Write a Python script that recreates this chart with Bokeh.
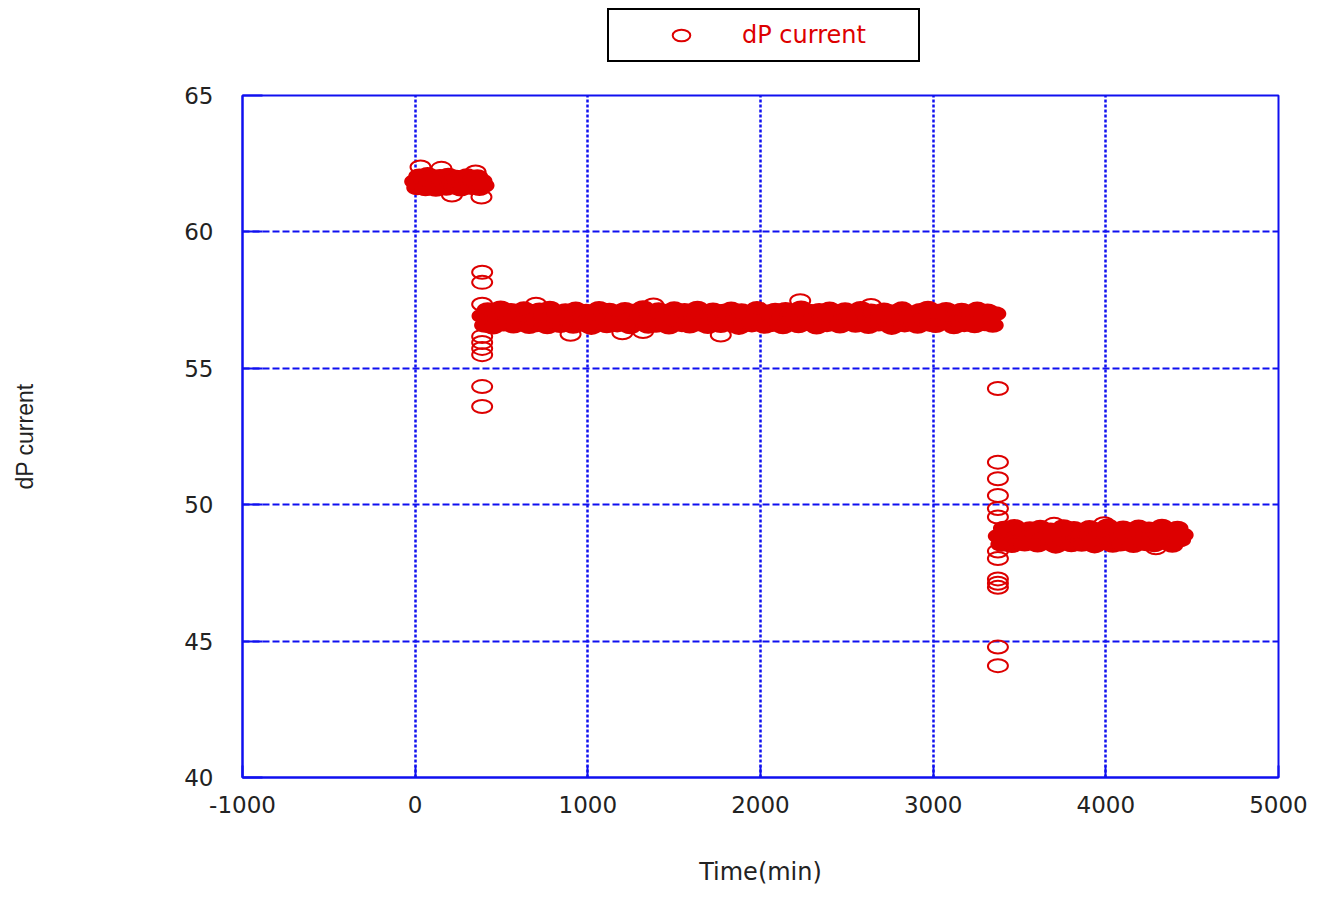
from bokeh.plotting import figure
from bokeh.layouts import column
from bokeh.models import (ColumnDataSource, Range1d, FixedTicker, Legend, LegendItem,
                          PrintfTickFormatter)
from bokeh.embed import file_html
from bokeh.resources import INLINE

# ---------------- data ----------------
# Regular logging interval of each run segment (min)
band1_t = list(range(0, 397, 12))
band1_v = [61.85, 61.62, 62.05, 61.74, 61.95, 61.58, 62.10, 61.80, 61.67, 61.99,
           61.56, 61.90, 62.03, 61.71, 61.88, 61.60, 62.08, 61.77, 61.93, 61.65,
           62.00, 61.83, 61.57, 61.97, 61.69, 62.06, 61.79, 61.63, 61.92, 61.75,
           62.02, 61.59, 61.87, 61.70]

band2_t = list(range(390, 3361, 15))
band2_v = [56.92, 56.58, 57.15, 56.74, 56.51, 57.05, 56.83, 57.21, 56.62, 56.97,
           56.70, 57.12, 56.55, 56.88, 57.02, 56.64, 57.18, 56.79, 56.53, 57.08,
           56.86, 56.60, 57.14, 56.72, 56.95, 56.52, 57.20, 56.81, 56.66, 57.04,
           56.57, 56.90, 57.11, 56.69, 56.99, 56.54, 57.17, 56.76, 56.87, 56.61,
           57.09, 56.73, 56.50, 57.01, 56.84, 57.19, 56.63, 56.94, 56.56, 57.13,
           56.78, 56.91, 56.59, 57.06, 56.68, 57.16, 56.82, 56.52, 56.98, 57.10,
           56.65, 56.89, 57.22, 56.71, 56.54, 57.03, 56.80, 56.58, 57.15, 56.93,
           56.67, 57.07, 56.51, 56.85, 57.18, 56.74, 56.96, 56.60, 57.12, 56.77,
           56.55, 57.00, 56.88, 57.20, 56.62, 56.79, 57.05, 56.53, 56.97, 57.14,
           56.70, 56.86, 56.57, 57.09, 56.75, 56.94, 57.17, 56.64, 56.83, 56.50,
           57.11, 56.72, 56.92, 57.02, 56.59, 56.81, 57.19, 56.66, 56.99, 56.54,
           57.06, 56.87, 56.61, 57.13, 56.76, 56.90, 56.52, 57.16, 56.69, 56.95,
           56.80, 57.04, 56.56, 57.21, 56.73, 56.91, 56.63, 57.08, 56.84, 56.51,
           57.12, 56.78, 56.98, 56.60, 57.17, 56.68, 56.89, 57.01, 56.55, 56.93,
           57.15, 56.65, 56.82, 57.06, 56.58, 56.96, 57.19, 56.71, 56.87, 56.53,
           57.10, 56.77, 57.00, 56.62, 56.92, 57.14, 56.67, 56.85, 56.50, 57.07,
           56.74, 56.94, 57.18, 56.59, 56.83, 57.03, 56.64, 56.97, 56.54, 57.12,
           56.79, 56.90, 57.20, 56.61, 56.86, 56.57, 57.09, 56.70, 56.99, 57.16,
           56.66, 56.88, 56.52, 57.05, 56.75, 57.13, 56.60, 56.93, 56.81, 57.02,
           56.56, 57.17, 56.72, 56.95, 56.63, 57.10, 56.84, 56.58, 57.00]

band3_t = list(range(3380, 4446, 15))
band3_v = [48.85, 48.55, 49.14, 48.70, 48.95, 48.50, 49.20, 48.78, 48.63, 49.03,
           48.56, 48.90, 49.12, 48.67, 48.98, 48.52, 49.17, 48.75, 48.87, 48.60,
           49.07, 48.72, 48.48, 49.01, 48.83, 49.19, 48.62, 48.93, 48.53, 49.13,
           48.77, 48.91, 48.55, 49.05, 48.68, 49.16, 48.81, 48.49, 48.97, 49.09,
           48.64, 48.88, 49.22, 48.69, 48.51, 49.02, 48.79, 48.56, 49.15, 48.92,
           48.66, 49.06, 48.50, 48.84, 49.18, 48.73, 48.95, 48.57, 49.11, 48.76,
           48.53, 48.99, 48.86, 49.21, 48.61, 48.80, 49.04, 48.51, 48.96, 49.14,
           48.71, 48.89]

# isolated readings (transitions / spikes)
extra_t = [31, 152, 350, 213, 384,
           388, 388, 388, 388, 388, 388, 388, 388, 388,
           900, 1200, 1770, 1320, 700, 1380, 2230, 2640,
           3375, 3375, 3375, 3375, 3375, 3375, 3375, 3375, 3375, 3375, 3375, 3375, 3375,
           4290, 3700, 3990]
extra_v = [62.38, 62.33, 62.20, 61.35, 61.28,
           58.52, 58.15, 57.35, 56.17, 55.95, 55.73, 55.50, 54.33, 53.60,
           56.25, 56.30, 56.22, 56.35, 57.35, 57.32, 57.48, 57.30,
           54.26, 51.56, 50.95, 50.34, 49.86, 49.55, 48.30, 48.03, 47.28, 47.12, 46.97, 44.78, 44.10,
           48.42, 49.28, 49.30]

x_ticks = [-1000, 0, 1000, 2000, 3000, 4000, 5000]
y_ticks = [40, 45, 50, 55, 60, 65]

series_label = "dP current"
x_title = "Time(min)"
y_title = "dP current"

# ---------------- styling ----------------
BLUE = "#1010f0"
RED = "#dd0000"
FONT = "DejaVu Sans"
TOP_H = 80
mk = dict(x="t", y="v", width=20, height=13, width_units="screen",
          height_units="screen", line_color=RED, line_width=2)

# ---------------- legend strip (above the plot) ----------------
lg = figure(width=1318, height=TOP_H, output_backend="svg", toolbar_location=None,
            x_range=Range1d(0, 1), y_range=Range1d(0, 1),
            x_axis_location=None, y_axis_location=None,
            min_border_left=0, min_border_right=0, min_border_top=0, min_border_bottom=0,
            outline_line_color=None, background_fill_color="white",
            border_fill_color="white")
lg.grid.visible = False
key = lg.ellipse(source=ColumnDataSource(dict(t=[-5], v=[-5])), fill_color=None, **mk)
legend = Legend(items=[LegendItem(label=series_label, renderers=[key])],
                location=(365, TOP_H - 62), margin=0, padding=11,
                glyph_width=122, glyph_height=22, label_standoff=0,
                label_width=165, label_height=27,
                label_text_font=FONT, label_text_font_size="24px",
                label_text_color=RED,
                border_line_color="black", border_line_width=2.5,
                border_line_alpha=1.0,
                background_fill_color="white", background_fill_alpha=1.0)
lg.add_layout(legend)

# ---------------- main plot ----------------
dense = ColumnDataSource(dict(t=band1_t + band2_t + band3_t,
                              v=band1_v + band2_v + band3_v))
sparse = ColumnDataSource(dict(t=extra_t, v=extra_v))

p = figure(width=1318, height=897 - TOP_H, output_backend="svg", toolbar_location=None,
           x_range=Range1d(-1000, 5000), y_range=Range1d(40, 65),
           min_border_left=242, min_border_right=40, min_border_top=95 - TOP_H,
           min_border_bottom=120, background_fill_color="white",
           border_fill_color="white")

# densely overlapping logged readings merge into a solid band
p.ellipse(source=dense, fill_color=RED, **mk)
p.ellipse(source=sparse, fill_color=None, **mk)

p.outline_line_color = BLUE
p.outline_line_width = 2

for ax, ticks, tin in ((p.xaxis[0], x_ticks, 12), (p.yaxis[0], y_ticks, 20)):
    ax.ticker = FixedTicker(ticks=ticks)
    ax.formatter = PrintfTickFormatter(format="%d")
    ax.axis_line_color = BLUE
    ax.axis_line_width = 2
    ax.major_tick_in = tin
    ax.major_tick_out = 0
    ax.major_tick_line_color = BLUE
    ax.major_tick_line_width = 2
    ax.minor_tick_line_color = None
    ax.major_label_text_font = FONT
    ax.major_label_text_font_size = "23px"
    ax.major_label_text_color = "#222222"
    ax.axis_label_text_font_style = "normal"
    ax.axis_label_text_color = "#222222"

p.xaxis.major_label_standoff = 18
p.yaxis.major_label_standoff = 29
p.xaxis.axis_label = x_title
p.xaxis.axis_label_text_font = FONT
p.xaxis.axis_label_text_font_size = "24px"
p.xaxis.axis_label_standoff = 42
p.yaxis.axis_label = y_title
p.yaxis.axis_label_text_font = "Liberation Sans"
p.yaxis.axis_label_text_font_size = "23px"
p.yaxis.axis_label_standoff = 143

p.xgrid.ticker = FixedTicker(ticks=x_ticks)
p.ygrid.ticker = FixedTicker(ticks=y_ticks)
p.xgrid.grid_line_color = BLUE
p.xgrid.grid_line_dash = "3 2"
p.xgrid.grid_line_width = 2.5
p.ygrid.grid_line_color = BLUE
p.ygrid.grid_line_dash = "7 3"
p.ygrid.grid_line_width = 2

page = column(lg, p, spacing=0)
open("out.html", "w").write(file_html(page, INLINE))
